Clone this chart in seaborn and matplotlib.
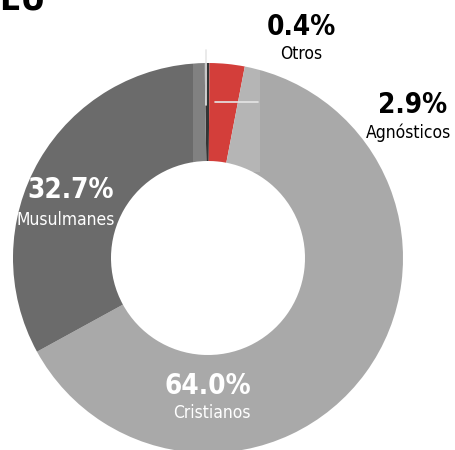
import seaborn as sns
import matplotlib.pyplot as plt
from matplotlib.patches import Rectangle

# data
groups = ["Otros", "Agnósticos", "Cristianos", "Musulmanes"]
shares = [0.4, 2.9, 64.0, 32.7]
colors = ["#111111", "#cc1d18", "#a9a9a9", "#6b6b6b"]

sns.set_theme(style="white")
plt.rcParams["font.family"] = ["DejaVu Sans"]
plt.rcParams["font.stretch"] = "condensed"

fig = plt.figure(figsize=(4.55, 4.5), dpi=100)
ax = fig.add_axes([0, 0, 1, 1])

cx, cy, R = 208, 192, 195
ax.pie(shares, colors=colors, startangle=91, counterclock=False,
       center=(cx, cy), radius=R, frame=True,
       wedgeprops=dict(width=98, linewidth=0))
ax.set_xlim(0, 455)
ax.set_ylim(0, 450)
ax.set_aspect("equal")
ax.axis("off")

# highlight box at the top of the ring
ax.add_patch(Rectangle((193, 278), 67, 122, facecolor="white", alpha=0.15,
                       edgecolor="none", zorder=3))
ax.plot([206, 206], [345, 400], color="#e6e6e6", lw=1.2, zorder=4)
ax.plot([215, 258], [348, 348], color="#e6e6e6", lw=1.2, zorder=4)

# title (cropped at the top)
ax.text(-1, 434, "EU", fontsize=25, fontweight="bold", color="black",
        ha="left", va="bottom")

# labels
big = dict(fontsize=20, fontweight="bold", ha="center", va="center")
small = dict(fontsize=12.5, ha="center", va="center")
ax.text(301, 423, "0.4%", color="black", **big)
ax.text(301, 396, "Otros", color="black", **small)
ax.text(413, 345, "2.9%", color="black", **big)
ax.text(409, 317, "Agnósticos", color="black", **small)
ax.text(71, 260, "32.7%", color="white", **big)
ax.text(66, 230, "Musulmanes", color="white", **small)
ax.text(208, 64, "64.0%", color="white", **big)
ax.text(212, 37, "Cristianos", color="white", **small)

plt.savefig("out.png", dpi=100)
